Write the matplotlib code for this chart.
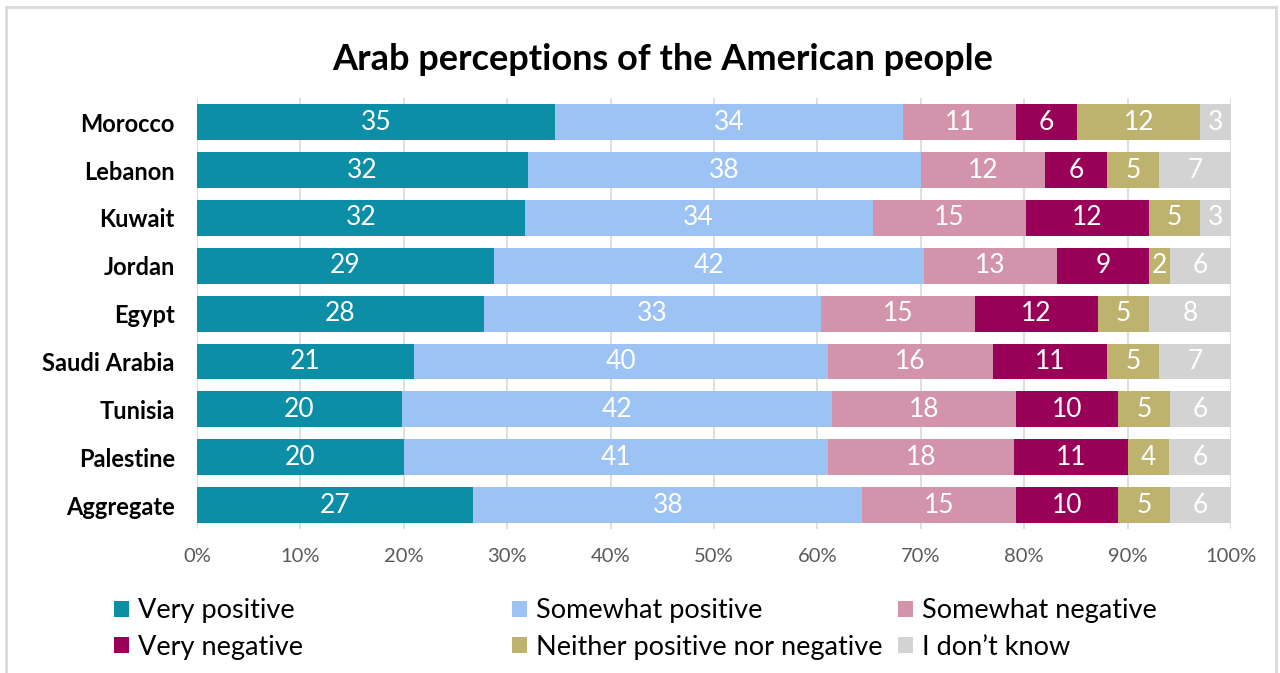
import matplotlib
matplotlib.use("Agg")
import matplotlib.pyplot as plt
import matplotlib.patches as mpatches
import numpy as np

plt.rcParams['font.family'] = ['Lato', 'DejaVu Sans']

countries = ["Morocco", "Lebanon", "Kuwait", "Jordan", "Egypt", "Saudi Arabia",
             "Tunisia", "Palestine", "Aggregate"]
series_names = ["Very positive", "Somewhat positive", "Somewhat negative",
                "Very negative", "Neither positive nor negative", "I don\u2019t know"]
very_positive = [35, 32, 32, 29, 28, 21, 20, 20, 27]
somewhat_positive = [34, 38, 34, 42, 33, 40, 42, 41, 38]
somewhat_negative = [11, 12, 15, 13, 15, 16, 18, 18, 15]
very_negative = [6, 6, 12, 9, 12, 11, 10, 11, 10]
neither = [12, 5, 5, 2, 5, 5, 5, 4, 5]
dont_know = [3, 7, 3, 6, 8, 7, 6, 6, 6]
colors = ["#0B8EA6", "#9DC3F5", "#D393AA", "#990058", "#BDB26E", "#D4D3D4"]
xticks = [0, 10, 20, 30, 40, 50, 60, 70, 80, 90, 100]

data = np.array([very_positive, somewhat_positive, somewhat_negative,
                 very_negative, neither, dont_know], dtype=float)
totals = data.sum(axis=0)
pct = data / totals * 100

fig = plt.figure(figsize=(12.8, 6.73), dpi=100)
ax = fig.add_axes([0.1539, 0.214, 0.8078, 0.640])

y = np.arange(len(countries))
left = np.zeros(len(countries))
for i, name in enumerate(series_names):
    bars = ax.barh(y, pct[i], left=left, height=0.75, color=colors[i],
                   label=name, zorder=3)
    for j, b in enumerate(bars):
        ax.text(left[j] + pct[i][j] / 2, y[j], f"{int(data[i][j])}",
                ha="center", va="center", color="white", fontsize=19, zorder=4)
    left += pct[i]

ax.set_ylim(len(countries) - 0.5, -0.5)
ax.set_xlim(0, 100)
ax.set_yticks(y)
ax.set_yticklabels(countries, fontsize=17, fontweight="bold")
ax.set_xticks(xticks)
ax.set_xticklabels([f"{t}%" for t in xticks], fontsize=14.5, color="#595959")
ax.tick_params(axis="both", length=0)
ax.tick_params(axis="x", pad=14)
ax.tick_params(axis="y", pad=16)
for s in ax.spines.values():
    s.set_visible(False)
ax.grid(axis="x", color="#D9D9D9", linewidth=1.2, zorder=0)
ax.set_axisbelow(True)

fig.suptitle("Arab perceptions of the American people", x=0.518, y=0.936,
             fontsize=26, fontweight="bold")

handles, labels = ax.get_legend_handles_labels()
columns = [[0, 3], [1, 4], [2, 5]]
col_x = [114, 512, 898]
for cols, xp in zip(columns, col_x):
    fig.legend([handles[k] for k in cols], [labels[k] for k in cols],
               ncol=1, loc="center left", bbox_to_anchor=(xp / 1280, 1 - 629 / 673),
               frameon=False, fontsize=19.5, handlelength=0.55, handleheight=0.55,
               handletextpad=0.35, labelspacing=0.42, borderpad=0, borderaxespad=0)

frame = mpatches.Rectangle((0.005, -0.02), 0.992, 1.0096, transform=fig.transFigure,
                           fill=False, edgecolor="#D9D9D9", linewidth=2)
fig.patches.append(frame)

fig.savefig("out.png", dpi=100, facecolor="white")
